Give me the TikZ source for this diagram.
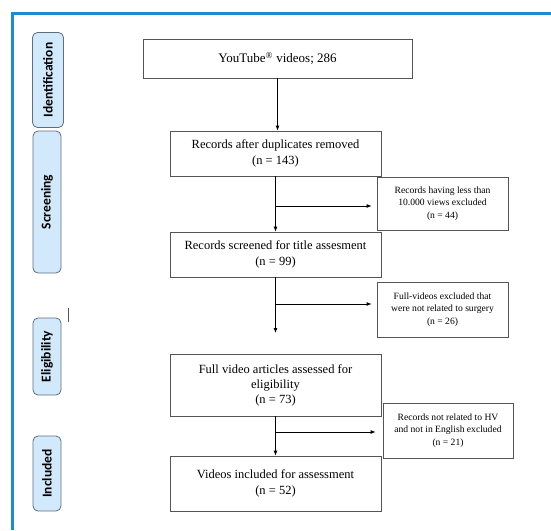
\documentclass[tikz,border=0pt]{standalone}
\usepackage{fontspec}
\setmainfont{Liberation Serif}
\newfontfamily\labfont{Carlito}
\usetikzlibrary{arrows.meta,positioning}
\definecolor{frameblue}{HTML}{1E8BCD}
\definecolor{stagefill}{HTML}{D2E9FB}
\definecolor{stageline}{HTML}{5E6E7C}
\definecolor{boxline}{HTML}{555555}
\tikzset{
  x=1pt,y=-1pt,
  mainbox/.style={draw=boxline,line width=0.8pt,fill=white,align=center,inner sep=2pt,
    font=\fontsize{12.5}{16}\selectfont},
  sidebox/.style={draw=boxline,line width=0.8pt,fill=white,align=center,inner sep=2pt,
    font=\fontsize{9.6}{12.5}\selectfont},
  stagebox/.style={draw=stageline,line width=0.8pt,fill=stagefill,rounded corners=5pt,rotate=90,
    minimum height=28pt,inner sep=1pt,font=\labfont\bfseries\fontsize{13.5}{15}\selectfont},
  flow/.style={line width=0.8pt,-{Latex[length=5pt,width=4pt]}},
}
\begin{document}
\begin{tikzpicture}
\useasboundingbox (0,0) rectangle (551,530);
% frame
\draw[frameblue,line width=3pt] (12.5,530) -- (12.5,13.5) -- (551,13.5);
% stage labels
\node[stagebox,minimum width=95pt,minimum height=31pt] (sid) at (48,80) {Identification};
\node[stagebox,minimum width=142pt] (sscr) at (47,202) {Screening};
\node[stagebox,minimum width=77pt] (selg) at (47,356.5) {Eligibility};
\node[stagebox,minimum width=75pt] (sinc) at (47,473.5) {Included};
\draw[boxline,line width=0.8pt] (68,308) -- (68,322);
% main boxes
\node[mainbox,minimum width=269pt,minimum height=39pt,font=\fontsize{13}{16}\selectfont] (b1) at (277.5,58.5) {YouTube\textsuperscript{®} videos; 286};
\node[mainbox,minimum width=211pt,minimum height=45pt] (b2) at (275.5,153.5) {Records after duplicates removed\\(n = 143)};
\node[mainbox,minimum width=211pt,minimum height=45pt] (b3) at (275.5,254.5) {Records screened for title assesment\\(n = 99)};
\node[mainbox,minimum width=211pt,minimum height=62pt,font=\fontsize{12.5}{15}\selectfont] (b4) at (275.5,385) {Full video articles assessed for\\eligibility\\(n = 73)};
\node[mainbox,minimum width=211pt,minimum height=55pt] (b5) at (275.5,483.5) {Videos included for assessment\\(n = 52)};
% side boxes
\node[sidebox,minimum width=131pt,minimum height=53pt] (s1) at (442.5,203.5) {Records having less than\\10.000 views excluded\\(n = 44)};
\node[sidebox,minimum width=131pt,minimum height=55pt] (s2) at (442.5,309.5) {Full-videos excluded that\\were not related to surgery\\(n = 26)};
\node[sidebox,minimum width=130pt,minimum height=55pt] (s3) at (448,430.5) {Records not related to HV\\and not in English excluded\\(n = 21)};
% connectors
\coordinate (e3) at (275.5,333);
\coordinate (j1) at (275.5,206);
\coordinate (j2) at (275.5,304);
\coordinate (j3) at (275.5,432);
\draw[flow] (b1.south) -- (b1.south |- b2.north);
\draw[flow] (b2.south) -- (b3.north);
\draw[flow] (b3.south) -- (e3);
\draw[flow] (b4.south) -- (b5.north);
\draw[flow,shorten >=5pt] (j1) -- (s1.west |- j1);
\draw[flow,shorten >=5pt] (j2) -- (s2.west |- j2);
\draw[flow,shorten >=7pt] (j3) -- (s3.west |- j3);
\end{tikzpicture}
\end{document}
